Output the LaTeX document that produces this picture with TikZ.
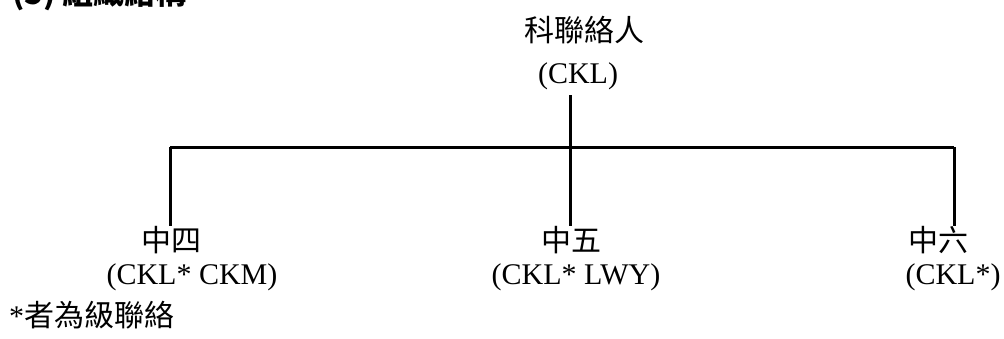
\documentclass[tikz,border=0pt]{standalone}
\usepackage{fontspec}
\setmainfont{Liberation Serif}
\newfontfamily\cjk{Noto Sans CJK TC}
\usetikzlibrary{positioning}

\begin{document}
\begin{tikzpicture}[
    x=1pt, y=-1pt,
    % --- MINIMALIST STYLES ---
    label/.style={anchor=base, inner sep=0pt, font=\fontsize{30}{34}\selectfont},
    cjklabel/.style={label, font=\fontsize{30}{34}\selectfont\cjk},
    heading/.style={anchor=base west, inner sep=0pt, font=\fontsize{31}{34}\selectfont\cjk\bfseries},
    link/.style={line width=3pt}
]
\useasboundingbox (0,0) rectangle (1004,338);

% --- 0. HEADING (cut off at the top) ---
\node (heading) [heading] at (12,4) {(5) 組織結構};

% --- 1. HEAD OF SUBJECT ---
\node (head) [cjklabel] at (584,41) {科聯絡人};
\node (headcode) [label] at (578,83) {(CKL)};

% --- 2. FORMS ---
\node (f4) [cjklabel] at (171,251) {中四};
\node (f4code) [label] at (192,284) {(CKL* CKM)};
\node (f5) [cjklabel] at (571,251) {中五};
\node (f5code) [label] at (576,284) {(CKL* LWY)};
\node (f6) [cjklabel] at (938,251) {中六};
\node (f6code) [label] at (953,284) {(CKL*)};

% --- 3. NOTE ---
\node (note) [label, anchor=base west] at (9,326) {*{\cjk 者為級聯絡}};

% --- TREE LINES ---
\coordinate (stemtop) at (570,95);
\coordinate (stembot) at (570,226);
\coordinate (barleft) at (170,147);
\coordinate (barright) at (954,147);
\coordinate (leftbot) at (170,226);
\coordinate (rightbot) at (954,226);

\draw [link] (stemtop) -- (stembot);
\draw [link] (barleft) -- (barright);
\draw [link] (barleft) -- (leftbot);
\draw [link] (barright) -- (rightbot);

\end{tikzpicture}
\end{document}
